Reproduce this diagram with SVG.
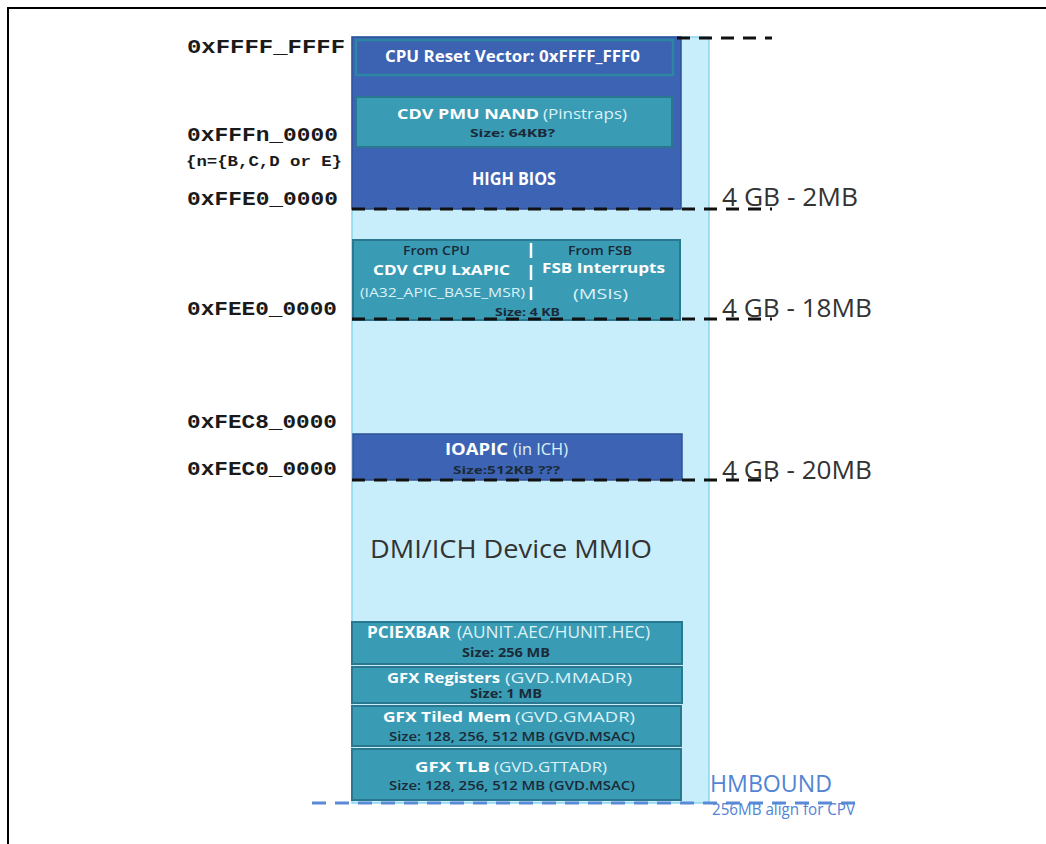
<svg xmlns="http://www.w3.org/2000/svg" width="1046" height="844" viewBox="0 0 1046 844">
  <style>
    .addr { font-family: "Liberation Mono", "Courier New", monospace; font-weight: bold; font-size: 20px; fill: #1a1a1a; }
    .addr-sm { font-family: "Liberation Mono", "Courier New", monospace; font-weight: bold; font-size: 15px; fill: #1a1a1a; }
    .gb { font-family: "Open Sans", "Liberation Sans", sans-serif; font-size: 26px; fill: #333333; }
    .title { font-family: "Open Sans", "Liberation Sans", sans-serif; font-weight: bold; fill: #ffffff; }
    .sub { font-family: "Open Sans", "Liberation Sans", sans-serif; fill: #dcf2f8; }
    .size { font-family: "Open Sans", "Liberation Sans", sans-serif; font-weight: bold; fill: #1b2a38; }
    .size-n { font-family: "Open Sans", "Liberation Sans", sans-serif; font-weight: 600; fill: #1b2a38; }
    .from { font-family: "Open Sans", "Liberation Sans", sans-serif; font-weight: 600; fill: #1b2a38; }
    .dark-blk { fill: #3d64b4; stroke: #2f5198; stroke-width: 1.5; }
    .teal-blk { fill: #3a9bb5; stroke: #2a7890; stroke-width: 2; }
    .cut { fill: none; stroke: #111111; stroke-width: 3; stroke-dasharray: 13 9; }
    .hm { font-family: "Open Sans", "Liberation Sans", sans-serif; fill: #5384d4; }
  </style>

  <!-- outer frame -->
  <rect x="8" y="8" width="1060" height="860" fill="#ffffff" stroke="#000000" stroke-width="2"/>

  <!-- memory column background -->
  <g id="mmio-column">
    <rect x="352" y="37" width="357" height="766" fill="#c9eefb" stroke="#8ad6ee" stroke-width="1.5"/>
    <text x="370" y="558" class="gb" textLength="282" lengthAdjust="spacingAndGlyphs">DMI/ICH Device MMIO</text>
  </g>

  <!-- high BIOS region -->
  <g id="high-bios">
    <rect x="352" y="37" width="329" height="172" class="dark-blk"/>
    <text x="472" y="185" class="title" font-size="18" textLength="84" lengthAdjust="spacingAndGlyphs">HIGH BIOS</text>
  </g>

  <g id="reset-vector">
    <rect x="356" y="40" width="317" height="35" fill="#3c62b2" stroke="#2b86a2" stroke-width="2.5"/>
    <text x="385" y="62" class="title" font-size="16" textLength="255" lengthAdjust="spacingAndGlyphs">CPU Reset Vector: 0xFFFF_FFF0</text>
  </g>

  <g id="pmu-nand">
    <rect x="356" y="97" width="316" height="50" class="teal-blk"/>
    <text x="397" y="119" class="title" font-size="15" textLength="142" lengthAdjust="spacingAndGlyphs">CDV PMU NAND</text>
    <text x="543" y="119" class="sub" font-size="15" textLength="84" lengthAdjust="spacingAndGlyphs">(Pinstraps)</text>
    <text x="470" y="137" class="size" font-size="11" textLength="85" lengthAdjust="spacingAndGlyphs">Size: 64KB?</text>
  </g>

  <!-- local APIC / MSI window -->
  <g id="lxapic">
    <rect x="353" y="240" width="327" height="80" class="teal-blk"/>
    <line x1="531" y1="243" x2="531" y2="300" stroke="#ffffff" stroke-width="2.5" stroke-dasharray="15 7"/>
    <text x="403" y="255" class="from" font-size="12" textLength="67" lengthAdjust="spacingAndGlyphs">From CPU</text>
    <text x="373" y="275" class="title" font-size="15" textLength="137" lengthAdjust="spacingAndGlyphs">CDV CPU LxAPIC</text>
    <text x="360" y="297" class="sub" font-size="12" textLength="165" lengthAdjust="spacingAndGlyphs">(IA32_APIC_BASE_MSR)</text>
    <text x="495" y="316" class="size" font-size="11" textLength="65" lengthAdjust="spacingAndGlyphs">Size: 4 KB</text>
    <text x="568" y="255" class="from" font-size="12" textLength="64" lengthAdjust="spacingAndGlyphs">From FSB</text>
    <text x="542" y="273" class="title" font-size="15" textLength="123" lengthAdjust="spacingAndGlyphs">FSB Interrupts</text>
    <text x="573" y="299" class="sub" font-size="15" textLength="55" lengthAdjust="spacingAndGlyphs">(MSIs)</text>
  </g>

  <g id="ioapic">
    <rect x="353" y="434" width="329" height="46" class="dark-blk"/>
    <text x="445" y="455" class="title" font-size="16" textLength="63" lengthAdjust="spacingAndGlyphs">IOAPIC</text>
    <text x="513" y="455" class="sub" font-size="16" textLength="55" lengthAdjust="spacingAndGlyphs">(in ICH)</text>
    <text x="453" y="474" class="size" font-size="11" textLength="107" lengthAdjust="spacingAndGlyphs">Size:512KB ???</text>
  </g>

  <!-- stacked BAR regions -->
  <g id="pciexbar">
    <rect x="352" y="622" width="330" height="42" class="teal-blk"/>
    <text x="367" y="638" class="title" font-size="16" textLength="83" lengthAdjust="spacingAndGlyphs">PCIEXBAR</text>
    <text x="457" y="638" class="sub" font-size="16" textLength="193" lengthAdjust="spacingAndGlyphs">(AUNIT.AEC/HUNIT.HEC)</text>
    <text x="462" y="657" class="size" font-size="12" textLength="88" lengthAdjust="spacingAndGlyphs">Size:  256 MB</text>
  </g>

  <g id="gfx-registers">
    <rect x="352" y="667" width="330" height="36" class="teal-blk"/>
    <text x="387" y="683" class="title" font-size="15" textLength="113" lengthAdjust="spacingAndGlyphs">GFX Registers</text>
    <text x="505" y="683" class="sub" font-size="15" textLength="127" lengthAdjust="spacingAndGlyphs">(GVD.MMADR)</text>
    <text x="470" y="698" class="size" font-size="12" textLength="72" lengthAdjust="spacingAndGlyphs">Size:  1 MB</text>
  </g>

  <g id="gfx-tiled-mem">
    <rect x="352" y="706" width="329" height="40" class="teal-blk"/>
    <text x="383" y="722" class="title" font-size="15" textLength="128" lengthAdjust="spacingAndGlyphs">GFX Tiled Mem</text>
    <text x="515" y="722" class="sub" font-size="15" textLength="120" lengthAdjust="spacingAndGlyphs">(GVD.GMADR)</text>
    <text x="389" y="741" class="size-n" font-size="12" textLength="246" lengthAdjust="spacingAndGlyphs">Size:  128, 256, 512 MB (GVD.MSAC)</text>
  </g>

  <g id="gfx-tlb">
    <rect x="352" y="749" width="329" height="51" class="teal-blk"/>
    <text x="415" y="772" class="title" font-size="15" textLength="75" lengthAdjust="spacingAndGlyphs">GFX TLB</text>
    <text x="494" y="772" class="sub" font-size="15" textLength="113" lengthAdjust="spacingAndGlyphs">(GVD.GTTADR)</text>
    <text x="389" y="790" class="size-n" font-size="12" textLength="246" lengthAdjust="spacingAndGlyphs">Size:  128, 256, 512 MB (GVD.MSAC)</text>
  </g>

  <!-- boundary markers (dashed cut lines) -->
  <g id="connectors">
    <line x1="677" y1="38" x2="772" y2="38" class="cut" stroke-dasharray="16 10"/>
    <line x1="352" y1="209" x2="772" y2="209" class="cut"/>
    <line x1="352" y1="319" x2="772" y2="319" class="cut"/>
    <line x1="352" y1="480" x2="772" y2="480" class="cut"/>
    <line x1="312" y1="803" x2="860" y2="803" fill="none" stroke="#5a8ad6" stroke-width="3" stroke-dasharray="14 9"/>
  </g>

  <!-- address labels -->
  <g id="address-labels">
    <text x="187" y="53" class="addr" textLength="158" lengthAdjust="spacingAndGlyphs">0xFFFF_FFFF</text>
    <text x="187" y="141" class="addr" textLength="151" lengthAdjust="spacingAndGlyphs">0xFFFn_0000</text>
    <text x="186" y="166" class="addr-sm" textLength="156" lengthAdjust="spacingAndGlyphs">{n={B,C,D or E}</text>
    <text x="187" y="205" class="addr" textLength="151" lengthAdjust="spacingAndGlyphs">0xFFE0_0000</text>
    <text x="187" y="315" class="addr" textLength="150" lengthAdjust="spacingAndGlyphs">0xFEE0_0000</text>
    <text x="187" y="428" class="addr" textLength="150" lengthAdjust="spacingAndGlyphs">0xFEC8_0000</text>
    <text x="187" y="475" class="addr" textLength="150" lengthAdjust="spacingAndGlyphs">0xFEC0_0000</text>
  </g>

  <g id="size-labels">
    <text x="722" y="206" class="gb" textLength="136" lengthAdjust="spacingAndGlyphs">4 GB - 2MB</text>
    <text x="722" y="317" class="gb" textLength="150" lengthAdjust="spacingAndGlyphs">4 GB - 18MB</text>
    <text x="722" y="479" class="gb" textLength="150" lengthAdjust="spacingAndGlyphs">4 GB - 20MB</text>
  </g>

  <g id="hmbound">
    <text x="710" y="792" class="hm" font-size="23" textLength="122" lengthAdjust="spacingAndGlyphs">HMBOUND</text>
    <text x="712" y="815" class="hm" font-size="16" textLength="143" lengthAdjust="spacingAndGlyphs">256MB align for CPV</text>
  </g>
</svg>
